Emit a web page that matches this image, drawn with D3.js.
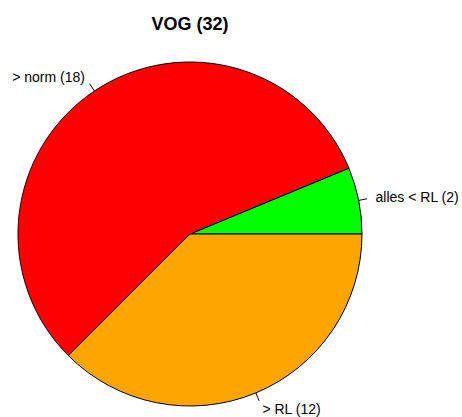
<!DOCTYPE html>
<html>
<head>
<meta charset="utf-8">
<script src="https://cdn.jsdelivr.net/npm/d3@7"></script>
<style>
  body { margin: 0; background: #fff; }
  svg { display: block; font-family: "Liberation Sans", Arial, sans-serif; }
</style>
</head>
<body>
<svg id="chart"></svg>
<script>
// slice data, in R's drawing order (counterclockwise from 3 o'clock)
var categories = ["alles < RL", "> norm", "> RL"];
var counts = [2, 18, 12];
var colors = ["#00FF00", "#FF0000", "#FFA500"];
var title = "VOG (32)";

var screen = {width: 462, height: 417};
var cx = 190, cy = 234, radius = 172;

var svg = d3.select("#chart")
            .attr("width", screen.width)
            .attr("height", screen.height);

svg.append("text")
   .attr("x", cx)
   .attr("y", 30)
   .attr("text-anchor", "middle")
   .style("font-weight", "bold")
   .style("font-size", "18px")
   .text(title);

var slices = categories.map(function(c, i) {
  return {label: c + " (" + counts[i] + ")", value: counts[i], color: colors[i]};
});

// d3 angles: 0 = 12 o'clock clockwise; start at 3 o'clock and go counterclockwise
var pie = d3.pie()
            .sort(null)
            .value(function(d) { return d.value; })
            .startAngle(Math.PI / 2)
            .endAngle(Math.PI / 2 - 2 * Math.PI);

var arc = d3.arc().innerRadius(0).outerRadius(radius);

var g = svg.append("g")
           .attr("transform", "translate(" + cx + "," + cy + ")");

var arcs = pie(slices);

g.selectAll("path")
 .data(arcs)
 .enter()
 .append("path")
 .attr("d", arc)
 .attr("fill", function(d) { return d.data.color; })
 .attr("stroke", "#000")
 .attr("stroke-width", 1);

var mid = function(d) { return (d.startAngle + d.endAngle) / 2; };

g.selectAll("line.tick")
 .data(arcs)
 .enter()
 .append("line")
 .attr("class", "tick")
 .attr("x1", function(d) { return radius * Math.sin(mid(d)); })
 .attr("y1", function(d) { return -radius * Math.cos(mid(d)); })
 .attr("x2", function(d) { return 1.05 * radius * Math.sin(mid(d)); })
 .attr("y2", function(d) { return -1.05 * radius * Math.cos(mid(d)); })
 .attr("stroke", "#000")
 .attr("stroke-width", 1);

g.selectAll("text.lab")
 .data(arcs)
 .enter()
 .append("text")
 .attr("class", "lab")
 .attr("x", function(d) { return 1.1 * radius * Math.sin(mid(d)); })
 .attr("y", function(d) { return -1.1 * radius * Math.cos(mid(d)); })
 .attr("dy", "0.35em")
 .attr("text-anchor", function(d) { return Math.sin(mid(d)) < 0 ? "end" : "start"; })
 .style("font-size", "14px")
 .text(function(d) { return d.data.label; });
</script>
</body>
</html>
